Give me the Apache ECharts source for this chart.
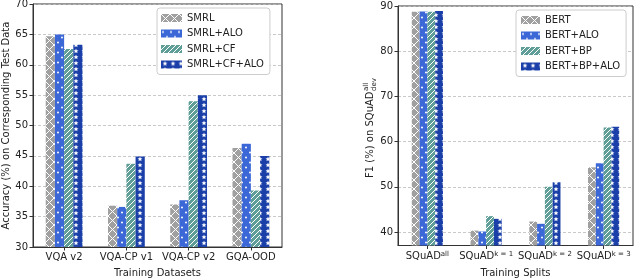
<!DOCTYPE html>
<html><head><meta charset="utf-8">
<script src="https://cdn.jsdelivr.net/npm/echarts@6/dist/echarts.min.js"></script>
<style>html,body{margin:0;padding:0;background:#fff}#c{width:640px;height:280px}</style>
</head><body><div id="c"></div>
<script>
// ---- data ----
const leftCategories = ['VQA v2', 'VQA-CP v1', 'VQA-CP v2', 'GQA-OOD'];
const leftNames = ['SMRL', 'SMRL+ALO', 'SMRL+CF', 'SMRL+CF+ALO'];
const smrl = [64.7, 36.8, 37.0, 46.3];
const smrlAlo = [65.0, 36.6, 37.7, 47.0];
const smrlCf = [62.6, 43.7, 54.0, 39.3];
const smrlCfAlo = [63.3, 44.9, 55.0, 45.0];
const leftTicks = [30, 35, 40, 45, 50, 55, 60, 65, 70];

const rightCategories = ['all', 'k = 1', 'k = 2', 'k = 3'];
const rightNames = ['BERT', 'BERT+ALO', 'BERT+BP', 'BERT+BP+ALO'];
const bert = [88.7, 40.3, 42.3, 54.3];
const bertAlo = [88.8, 40.1, 41.8, 55.2];
const bertBp = [88.7, 43.5, 50.0, 63.1];
const bertBpAlo = [88.9, 42.9, 51.0, 63.3];
const rightTicks = [40, 50, 60, 70, 80, 90];

// ---- patterns ----
function tile(w, h, bg, draw) {
  const c = document.createElement('canvas');
  c.width = w; c.height = h;
  const g = c.getContext('2d');
  g.fillStyle = bg; g.fillRect(0, 0, w, h);
  g.strokeStyle = '#fff'; g.fillStyle = '#fff';
  draw(g, w, h);
  return {image: c, repeat: 'repeat'};
}
const patX = tile(9, 9, '#a0a0a0', (g, w, h) => {
  g.lineWidth = 1;
  g.beginPath(); g.moveTo(0, 0); g.lineTo(w, h); g.moveTo(w, 0); g.lineTo(0, h); g.stroke();
});
const patDot = tile(8, 10, '#3b68d6', (g) => {
  g.beginPath(); g.arc(2, 2.5, 1, 0, Math.PI * 2); g.fill();
  g.beginPath(); g.arc(6, 7.5, 1, 0, Math.PI * 2); g.fill();
});
const patSlash = tile(5, 5, '#5f9e98', (g, w, h) => {
  g.lineWidth = 1;
  g.beginPath(); g.moveTo(-1, h + 1); g.lineTo(w + 1, -1);
  g.moveTo(-1, 1); g.lineTo(1, -1); g.moveTo(w - 1, h + 1); g.lineTo(w + 1, h - 1); g.stroke();
});
function star(g, cx, cy, r) {
  g.beginPath();
  for (let i = 0; i < 10; i++) {
    const a = -Math.PI / 2 + i * Math.PI / 5;
    const rr = i % 2 ? r * 0.45 : r;
    g.lineTo(cx + rr * Math.cos(a), cy + rr * Math.sin(a));
  }
  g.closePath(); g.fill();
}
const patStar = tile(8, 6, '#1b3fa8', (g) => { star(g, 4, 3.2, 2.6); });
const pats = [patX, patDot, patSlash, patStar];

const font = 'DejaVu Sans';
const txt = '#222';

function mkSeries(name, data, idx, axis, bw) {
  return {
    type: 'bar', name: name, data: data, xAxisIndex: axis, yAxisIndex: axis,
    barWidth: bw, barGap: '0%', itemStyle: {color: pats[idx]}
  };
}

const chart = echarts.init(document.getElementById('c'), null, {renderer: 'canvas'});
const axisLine = {show: true, lineStyle: {color: '#333', width: 1}};
const split = {show: true, lineStyle: {color: '#bbb', type: [3, 2], width: 0.8}};

chart.setOption({
  animation: false,
  textStyle: {fontFamily: font},
  grid: [
    {left: 33, top: 4, width: 249, height: 243, show: true, borderColor: '#333', borderWidth: 1, outerBoundsMode: 'none', containLabel: false},
    {left: 398, top: 6, width: 235, height: 239.5, show: true, borderColor: '#333', borderWidth: 1, outerBoundsMode: 'none', containLabel: false}
  ],
  legend: [
    {data: leftNames, orient: 'vertical', left: 157, top: 8, itemWidth: 21, itemHeight: 8, itemGap: 5.5,
     padding: [5, 6, 5, 4], borderColor: '#ccc', borderWidth: 1, borderRadius: 3, backgroundColor: '#fff',
     textStyle: {fontFamily: font, fontSize: 10, color: txt}, icon: 'rect'},
    {data: rightNames, orient: 'vertical', left: 516, top: 10, itemWidth: 19, itemHeight: 8, itemGap: 5.5,
     padding: [5, 6, 5, 5], borderColor: '#ccc', borderWidth: 1, borderRadius: 3, backgroundColor: '#fff',
     textStyle: {fontFamily: font, fontSize: 10, color: txt}, icon: 'rect'}
  ],
  xAxis: [
    {type: 'category', gridIndex: 0, data: leftCategories, axisLine: axisLine,
     axisTick: {show: true, alignWithLabel: true, length: 3.5, lineStyle: {color: '#333'}},
     axisLabel: {fontFamily: font, fontSize: 10, color: txt, margin: 5, interval: 0},
     name: 'Training Datasets', nameLocation: 'middle', nameGap: 21,
     nameTextStyle: {fontFamily: font, fontSize: 10, color: txt}},
    {type: 'category', gridIndex: 1, data: rightCategories, axisLine: axisLine,
     axisTick: {show: true, alignWithLabel: true, length: 3.5, lineStyle: {color: '#333'}},
     axisLabel: {fontFamily: font, fontSize: 10, color: txt, margin: 5, interval: 0,
       formatter: v => '{m|SQuAD}{s|' + v + '}',
       rich: {m: {fontFamily: font, fontSize: 10, color: txt}, s: {fontFamily: font, fontSize: 7, color: txt, verticalAlign: 'top', padding: [0, 0, 5, 0]}}},
     name: 'Training Splits', nameLocation: 'middle', nameGap: 23,
     nameTextStyle: {fontFamily: font, fontSize: 10, color: txt}}
  ],
  yAxis: [
    {type: 'value', gridIndex: 0, min: 30, max: 70, interval: 5, axisLine: axisLine,
     axisTick: {show: true, length: 3.5, lineStyle: {color: '#333'}},
     axisLabel: {fontFamily: font, fontSize: 10, color: txt, margin: 5},
     splitLine: split,
     name: 'Accuracy (%) on Corresponding Test Data', nameLocation: 'middle', nameGap: 22,
     nameTextStyle: {fontFamily: font, fontSize: 10, color: txt}},
    {type: 'value', gridIndex: 1, min: 37, max: 90, axisLine: axisLine,
     axisTick: {show: true, length: 3.5, lineStyle: {color: '#333'}, customValues: rightTicks},
     axisLabel: {fontFamily: font, fontSize: 10, color: txt, margin: 5, customValues: rightTicks},
     splitLine: split}
  ],
  graphic: [{
    type: 'group', x: 370, y: 129, rotation: Math.PI / 2,
    children: [
      {type: 'text', x: -49, y: 0, style: {text: 'F1 (%) on SQuAD', font: '10px "DejaVu Sans"', fill: txt, align: 'left', verticalAlign: 'middle'}},
      {type: 'text', x: 38, y: -3.5, style: {text: 'all', font: '7px "DejaVu Sans"', fill: txt, align: 'left', verticalAlign: 'middle'}},
      {type: 'text', x: 38, y: 4, style: {text: 'dev', font: '7px "DejaVu Sans"', fill: txt, align: 'left', verticalAlign: 'middle'}}
    ]
  }],
  series: [
    mkSeries(leftNames[0], smrl, 0, 0, 9.2),
    mkSeries(leftNames[1], smrlAlo, 1, 0, 9.2),
    mkSeries(leftNames[2], smrlCf, 2, 0, 9.2),
    mkSeries(leftNames[3], smrlCfAlo, 3, 0, 9.2),
    mkSeries(rightNames[0], bert, 0, 1, 7.8),
    mkSeries(rightNames[1], bertAlo, 1, 1, 7.8),
    mkSeries(rightNames[2], bertBp, 2, 1, 7.8),
    mkSeries(rightNames[3], bertBpAlo, 3, 1, 7.8)
  ]
});
</script></body></html>
